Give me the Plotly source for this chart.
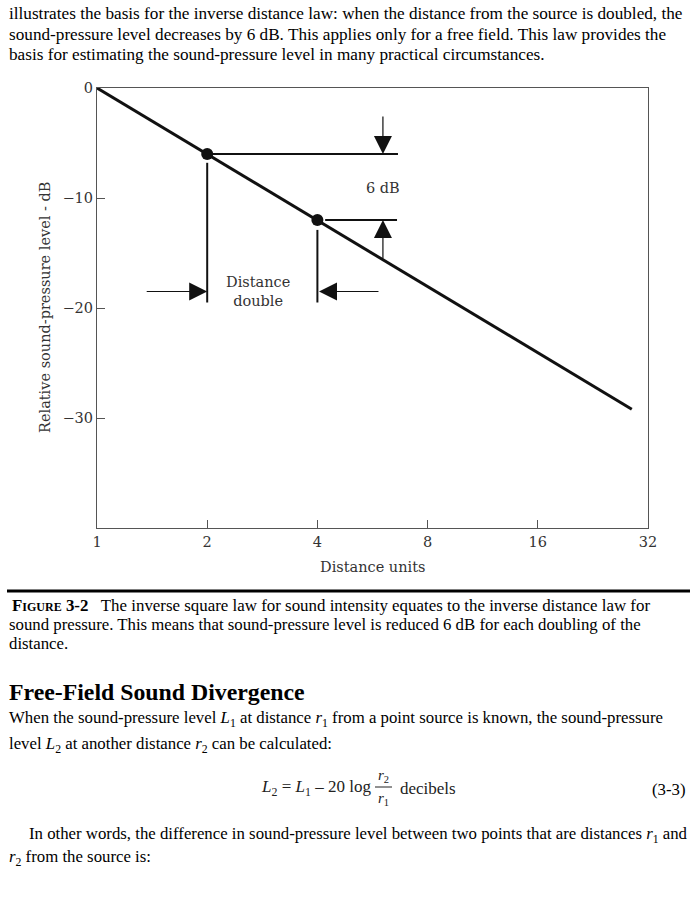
import numpy as np
import plotly.graph_objects as go

W, H = 695, 900

# ---- data ----
line_distance = [1, 28.9]
line_level = [0, -29.2]
point_distance = [2, 4]
point_level = [-6, -12]
x_tick_vals = [1, 2, 4, 8, 16, 32]
x_tick_text = ["1", "2", "4", "8", "16", "32"]
y_tick_vals = [0, -10, -20, -30]
y_tick_text = ["0", "\u221210", "\u221220", "\u221230"]

# marker geometry (data units)
h1_x = [2.07, 6.64]; h1_y = -6
h2_x = [4.2, 6.6]; h2_y = -12
v1_y = [-6.8, -19.5]
v2_y = [-12.9, -19.5]
arrow_x_6db = 6.04
arrow_y_dist = -18.5

def px(x):
    return x / W

def py(y):
    return 1 - y / H

fig = go.Figure()

fig.add_trace(go.Scatter(x=line_distance, y=line_level, mode="lines",
                         line=dict(color="#111", width=3), showlegend=False))
fig.add_trace(go.Scatter(x=point_distance, y=point_level, mode="markers",
                         marker=dict(color="#111", size=12), showlegend=False))
# reference lines
for xs, ys in [(h1_x, [h1_y, h1_y]), (h2_x, [h2_y, h2_y]),
               ([point_distance[0]] * 2, v1_y), ([point_distance[1]] * 2, v2_y)]:
    fig.add_trace(go.Scatter(x=xs, y=ys, mode="lines",
                             line=dict(color="#111", width=2), showlegend=False))

chart_font = dict(family="DejaVu Serif", size=14.5, color="#333")

ann = []

def arrow(x, y, ax, ay):
    ann.append(dict(x=np.log10(x), y=y, xref="x", yref="y", ax=ax, ay=ay,
                    axref="pixel", ayref="pixel", text="", showarrow=True,
                    arrowhead=2, arrowsize=3, arrowwidth=1.2, arrowcolor="#111"))

arrow(arrow_x_6db, h1_y, 0, -39)
arrow(arrow_x_6db, h2_y, 0, 40)
arrow(point_distance[0], arrow_y_dist, -62, 0)
arrow(point_distance[1] * 1.01, arrow_y_dist, 61, 0)

ann.append(dict(x=np.log10(arrow_x_6db), y=-9.1, xref="x", yref="y", text="6 dB",
                showarrow=False, font=chart_font))
ann.append(dict(x=np.log10(2.75), y=-18.5, xref="x", yref="y", text="Distance<br>double",
                showarrow=False, font=chart_font))

# axis titles
ann.append(dict(x=px(372), y=py(567), xref="paper", yref="paper", text="Distance units",
                showarrow=False, font=chart_font, xanchor="center", yanchor="middle"))
ann.append(dict(x=px(45), y=py(308), xref="paper", yref="paper",
                text="Relative sound-pressure level - dB", textangle=-90,
                showarrow=False, font=chart_font, xanchor="center", yanchor="middle"))

# ---- page text ----
top_font = dict(family="Liberation Serif", size=17.2, color="#000")
body = dict(family="Liberation Serif", size=16.8, color="#000")

def txt(x, y, s, font=body, xanchor="left"):
    ann.append(dict(x=px(x), y=py(y), xref="paper", yref="paper", text=s,
                    showarrow=False, xanchor=xanchor, yanchor="middle", font=font))

top_lines = [
    "illustrates the basis for the inverse distance law: when the distance from the source is doubled, the",
    "sound-pressure level decreases by 6 dB. This applies only for a free field. This law provides the",
    "basis for estimating the sound-pressure level in many practical circumstances.",
]
for i, s in enumerate(top_lines):
    txt(7, 14 + i * 20, s, font=top_font)

cap_lines = [
    "<b>F<span style='font-size:12px'>IGURE</span> 3-2</b>   The inverse square law for sound intensity equates to the inverse distance law for",
    "sound pressure. This means that sound-pressure level is reduced 6 dB for each doubling of the",
    "distance.",
]
txt(10, 605, cap_lines[0], font=dict(family="Liberation Serif", size=16.9, color="#000"))
txt(7, 624, cap_lines[1])
txt(7, 643, cap_lines[2])

txt(7, 692, "<b>Free-Field Sound Divergence</b>", font=dict(family="Liberation Serif", size=23.8, color="#000"))
txt(7, 719, "When the sound-pressure level <i>L</i><sub>1</sub> at distance <i>r</i><sub>1</sub> from a point source is known, the sound-pressure")
txt(7, 745, "level <i>L</i><sub>2</sub> at another distance <i>r</i><sub>2</sub> can be calculated:")

eq_font = dict(family="Liberation Serif", size=17, color="#222")
small = dict(family="Liberation Serif", size=15, color="#222")
txt(259, 788, "<i>L</i><sub>2</sub> = <i>L</i><sub>1</sub> \u2013 20 log", font=eq_font)
txt(383, 776, "<i>r</i><sub>2</sub>", font=small, xanchor="center")
txt(383, 799, "<i>r</i><sub>1</sub>", font=small, xanchor="center")
txt(398, 788, "decibels", font=eq_font)
txt(688, 789, "(3-3)", xanchor="right")

txt(27, 835, "In other words, the difference in sound-pressure level between two points that are distances <i>r</i><sub>1</sub> and")
txt(7, 858, "<i>r</i><sub>2</sub> from the source is:")

shapes = [
    dict(type="line", xref="paper", yref="paper", x0=px(7), x1=px(690), y0=py(591), y1=py(591),
         line=dict(color="#000", width=3)),
    dict(type="line", xref="paper", yref="paper", x0=px(375), x1=px(392), y0=py(787), y1=py(787),
         line=dict(color="#222", width=1)),
]

fig.update_layout(
    width=W, height=H, margin=dict(l=0, r=0, t=0, b=0, autoexpand=False),
    paper_bgcolor="white", plot_bgcolor="white",
    showlegend=False, annotations=ann, shapes=shapes,
    xaxis=dict(type="log", range=[0, np.log10(32)], domain=[px(97), px(648)],
               tickvals=x_tick_vals, ticktext=x_tick_text, ticks="inside", ticklen=8,
               tickcolor="#555", showline=True, linecolor="#555", linewidth=1.2, mirror=True,
               showgrid=False, zeroline=False, tickfont=chart_font, automargin=False),
    yaxis=dict(range=[-40, 0], domain=[py(528), py(88)],
               tickvals=y_tick_vals, ticktext=y_tick_text, ticks="inside", ticklen=8,
               tickcolor="#555", showline=True, linecolor="#555", linewidth=1.2, mirror=True,
               showgrid=False, zeroline=False, tickfont=chart_font, automargin=False),
)

fig.write_html("out.html", config={"displayModeBar": False},
               post_script="document.body.style.margin='0';document.body.style.padding='0';")
